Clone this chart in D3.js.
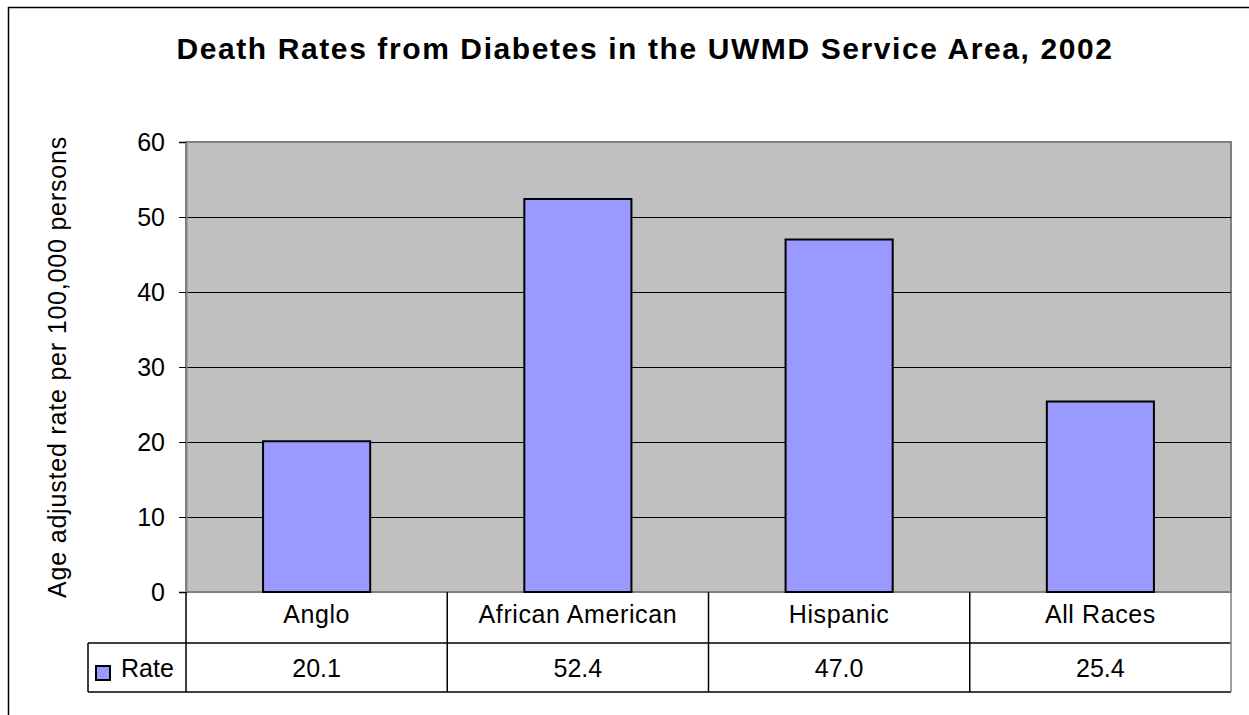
<!DOCTYPE html>
<html>
<head>
<meta charset="utf-8">
<script src="https://cdn.jsdelivr.net/npm/d3@7"></script>
<style>
  body { margin: 0; background: #fff; }
  svg { display: block; font-family: Arial, "Liberation Sans", sans-serif; }
</style>
</head>
<body>
<div id="chart"></div>
<script>
// chart data
const categories = ["Anglo", "African American", "Hispanic", "All Races"];
const rates = [20.1, 52.4, 47.0, 25.4];
const rateLabels = ["20.1", "52.4", "47.0", "25.4"];
const yTicks = [0, 10, 20, 30, 40, 50, 60];
const seriesName = "Rate";

const width = 1249, height = 715;
const plot = { left: 186, right: 1231, top: 142, bottom: 592 };

const svg = d3.select("#chart").append("svg")
  .attr("width", width)
  .attr("height", height);

// outer chart border (only left and top show inside the picture)
svg.append("rect")
  .attr("x", 8.5).attr("y", 7.5)
  .attr("width", 1300).attr("height", 800)
  .attr("fill", "none").attr("stroke", "#000").attr("stroke-width", 1.5);

// title
svg.append("text")
  .attr("x", 645).attr("y", 59)
  .attr("text-anchor", "middle")
  .attr("font-size", 30).attr("font-weight", "bold")
  .attr("letter-spacing", 1.6)
  .text("Death Rates from Diabetes in the UWMD Service Area, 2002");

const x = d3.scaleBand()
  .domain(categories)
  .range([plot.left, plot.right])
  .paddingInner(0.59)
  .paddingOuter(0.295);

const xCell = d3.scaleBand()
  .domain(categories)
  .range([plot.left, plot.right]);

const y = d3.scaleLinear()
  .domain([0, 60])
  .range([plot.bottom, plot.top]);

// plot background
svg.append("rect")
  .attr("x", plot.left).attr("y", plot.top)
  .attr("width", plot.right - plot.left).attr("height", plot.bottom - plot.top)
  .attr("fill", "#c0c0c0").attr("stroke", "#808080").attr("stroke-width", 2);

// gridlines
svg.append("g")
  .selectAll("line")
  .data(yTicks.filter(d => d > 0 && d < 60))
  .join("line")
  .attr("x1", plot.left).attr("x2", plot.right)
  .attr("y1", d => Math.round(y(d)) + 0.5).attr("y2", d => Math.round(y(d)) + 0.5)
  .attr("stroke", "#000").attr("stroke-width", 1);

// y axis
const yAxis = svg.append("g")
  .attr("transform", `translate(${plot.left},0)`)
  .call(d3.axisLeft(y).tickValues(yTicks).tickSize(7).tickPadding(14).tickFormat(d3.format("d")));
yAxis.select(".domain").attr("stroke", "#808080").attr("stroke-width", 2);
yAxis.selectAll(".tick line").attr("stroke", "#000");
yAxis.selectAll(".tick text")
  .attr("font-size", 25).attr("fill", "#000")
  .attr("font-family", "Arial, 'Liberation Sans', sans-serif");

// y axis title
svg.append("text")
  .attr("transform", "translate(66,367) rotate(-90)")
  .attr("text-anchor", "middle")
  .attr("font-size", 25)
  .attr("letter-spacing", 0.8)
  .text("Age adjusted rate per 100,000 persons");

// bars
svg.append("g")
  .selectAll("rect")
  .data(categories)
  .join("rect")
  .attr("x", d => x(d))
  .attr("y", (d, i) => y(rates[i]))
  .attr("width", x.bandwidth())
  .attr("height", (d, i) => y(0) - y(rates[i]))
  .attr("fill", "#9999ff")
  .attr("stroke", "#000").attr("stroke-width", 2);

// data table
const table = svg.append("g").attr("stroke", "#000").attr("stroke-width", 1.5);
const r1 = plot.bottom, r2 = plot.bottom + 51, r3 = plot.bottom + 100;
table.append("line").attr("x1", 88).attr("x2", plot.right).attr("y1", r2).attr("y2", r2);
table.append("line").attr("x1", 88).attr("x2", plot.right).attr("y1", r3).attr("y2", r3);
table.append("line").attr("x1", 88).attr("x2", 88).attr("y1", r2).attr("y2", r3);
table.selectAll(".vline")
  .data(categories)
  .join("line")
  .attr("x1", d => xCell(d)).attr("x2", d => xCell(d))
  .attr("y1", r1).attr("y2", r3);
table.append("line")
  .attr("x1", plot.right).attr("x2", plot.right)
  .attr("y1", r1).attr("y2", r3)
  .attr("stroke", "#808080");

svg.append("g")
  .selectAll("text")
  .data(categories)
  .join("text")
  .attr("x", d => xCell(d) + xCell.bandwidth() / 2)
  .attr("y", r1 + 31)
  .attr("text-anchor", "middle")
  .attr("font-size", 25)
  .attr("letter-spacing", 0.6)
  .text(d => d);

svg.append("g")
  .selectAll("text")
  .data(categories)
  .join("text")
  .attr("x", d => xCell(d) + xCell.bandwidth() / 2)
  .attr("y", r2 + 34)
  .attr("text-anchor", "middle")
  .attr("font-size", 25)
  .text((d, i) => rateLabels[i]);

// legend key in the table
svg.append("rect")
  .attr("x", 96).attr("y", 666)
  .attr("width", 14).attr("height", 14)
  .attr("fill", "#9999ff").attr("stroke", "#000").attr("stroke-width", 2);
svg.append("text")
  .attr("x", 121).attr("y", r2 + 34)
  .attr("font-size", 25)
  .text(seriesName);
</script>
</body>
</html>
